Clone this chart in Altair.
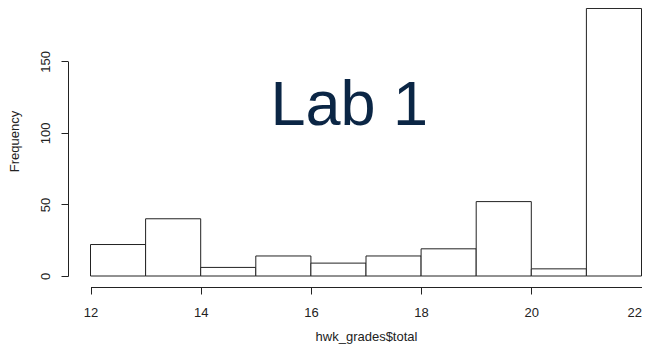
import altair as alt
import pandas as pd

bin_start = [12, 13, 14, 15, 16, 17, 18, 19, 20, 21]
bin_end = [13, 14, 15, 16, 17, 18, 19, 20, 21, 22]
counts = [22, 40, 6, 14, 9, 14, 19, 52, 5, 187]
x_ticks = [12, 14, 16, 18, 20, 22]
y_ticks = [0, 50, 100, 150]

df = pd.DataFrame({"start": bin_start, "end": bin_end, "count": counts})

FONT = "Liberation Sans"
INK = "#222222"

xscale = alt.Scale(domain=[12, 22], range=[22.5, 573.5], nice=False, zero=False)
yscale = alt.Scale(domain=[0, 150], range=[268, 53.4], nice=False, zero=False)

bars = alt.Chart(df).mark_bar(fill="white", stroke=INK, strokeWidth=1).encode(
    x=alt.X(
        "start:Q",
        scale=xscale,
        axis=alt.Axis(
            values=x_ticks,
            title="hwk_grades$total",
            grid=False,
            domainColor=INK,
            tickColor=INK,
            tickSize=7,
            labelFont=FONT,
            labelFontSize=13,
            labelColor=INK,
            labelAlign=alt.ExprRef(expr="datum.value == 22 ? 'right' : 'center'"),
            labelBaseline="alphabetic",
            labelPadding=22,
            labelFlush=False,
            labelOverlap=False,
            titleFont=FONT,
            titleFontSize=13,
            titleFontWeight="normal",
            titleColor=INK,
            titleBaseline="alphabetic",
            titleAlign="center",
            titleX=298,
            titleY=53,
        ),
    ),
    x2="end:Q",
    y=alt.Y(
        "count:Q",
        scale=yscale,
        axis=alt.Axis(
            values=y_ticks,
            title="Frequency",
            grid=False,
            domainColor=INK,
            tickColor=INK,
            tickSize=7,
            labelFont=FONT,
            labelFontSize=13,
            labelColor=INK,
            labelAngle=270,
            labelAlign="center",
            labelBaseline="alphabetic",
            labelPadding=12,
            labelFlush=False,
            labelOverlap=False,
            titleFont=FONT,
            titleFontSize=13,
            titleFontWeight="normal",
            titleColor=INK,
            titleAngle=270,
            titleBaseline="alphabetic",
            titleAlign="center",
            titleX=-49.4,
            titleY=133,
        ),
    ),
    y2=alt.datum(0),
)

label = alt.Chart(pd.DataFrame({"t": ["Lab 1"]})).mark_text(
    font=FONT, fontSize=63, color="#0b2645", align="left", baseline="alphabetic"
).encode(x=alt.value(202.4), y=alt.value(117), text="t:N")

chart = (
    alt.layer(bars, label)
    .properties(
        width=574,
        height=279,
        background="white",
        autosize=alt.AutoSizeParams(type="none"),
        padding={"left": 60, "top": 0, "right": 0, "bottom": 57},
    )
    .configure_view(strokeWidth=0, stroke="transparent")
)

chart.save("out.html", embed_options={"renderer": "svg", "actions": False})
